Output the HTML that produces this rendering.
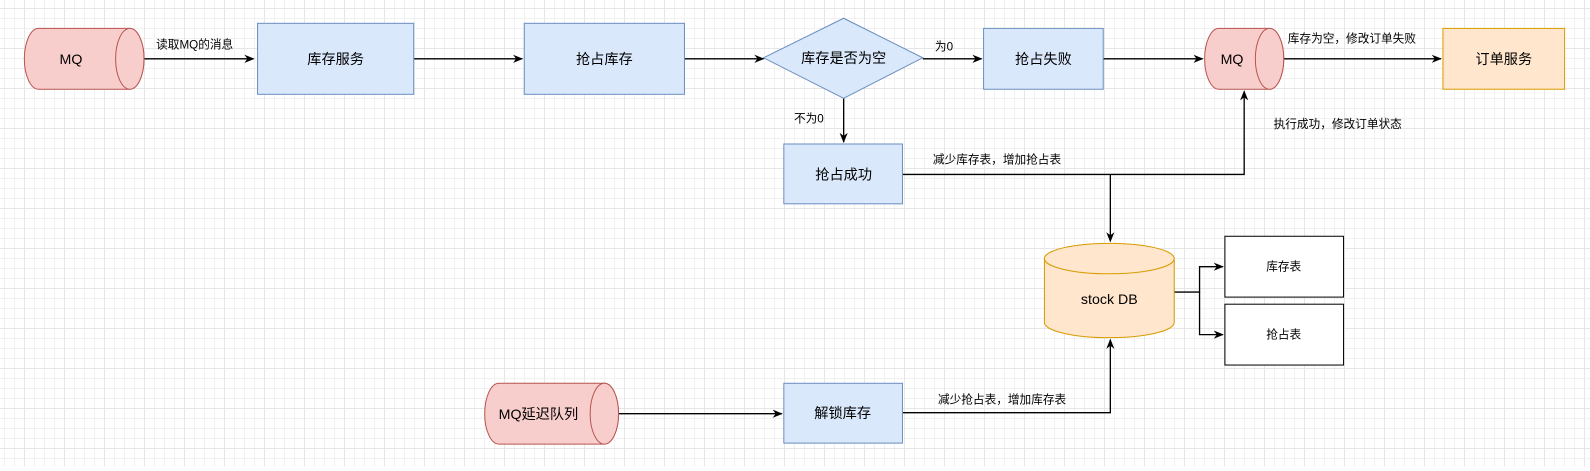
<!DOCTYPE html>
<html><head><meta charset="utf-8"><style>
html,body{margin:0;padding:0;background:#fff}
svg text{font-family:"Liberation Sans","Noto Sans CJK SC",sans-serif;fill:#000}
</style></head><body>
<svg width="1590" height="466" xmlns="http://www.w3.org/2000/svg">
<defs>
<pattern id="m" x="4" y="8" width="10" height="10" patternUnits="userSpaceOnUse"><path d="M10 0.5H0.5V10" fill="none" stroke="#f1f1f1" stroke-width="1"/></pattern>
<pattern id="g" x="24" y="8" width="40" height="40" patternUnits="userSpaceOnUse"><path d="M40 0.5H0.5V40" fill="none" stroke="#e6e6e6" stroke-width="1"/></pattern>
<marker id="a" markerWidth="10" markerHeight="10" refX="9" refY="5" orient="auto" markerUnits="userSpaceOnUse"><path d="M0 1 L10 5 L0 9 L3 5z" fill="#000"/></marker>
</defs>
<rect width="1590" height="466" fill="url(#m)"/>
<rect width="1590" height="466" fill="url(#g)"/>
<g transform="scale(1.014)">
<g stroke="#000" stroke-width="1.3" fill="none">
<path d="M142 58H250" marker-end="url(#a)"/>
<path d="M408 58H515" marker-end="url(#a)"/>
<path d="M675 58H753" marker-end="url(#a)"/>
<path d="M910 58H968" marker-end="url(#a)"/>
<path d="M1088 58H1186" marker-end="url(#a)"/>
<path d="M1265 58H1421" marker-end="url(#a)"/>
<path d="M832 97V140" marker-end="url(#a)"/>
<path d="M890 172H1227V90" marker-end="url(#a)"/>
<path d="M1095 172V238" marker-end="url(#a)"/>
<path d="M1158 288H1183V263H1206" marker-end="url(#a)"/>
<path d="M1183 288V330H1206" marker-end="url(#a)"/>
<path d="M610 408H771" marker-end="url(#a)"/>
<path d="M890 407H1095V335" marker-end="url(#a)"/>
</g>
<g stroke="#b85450" fill="#f8cecc" stroke-width="1">
<path d="M38 28H128A14 30 0 0 1 128 88H38A14 30 0 0 1 38 28Z"/>
<ellipse cx="128" cy="58" rx="14" ry="30"/>
<path d="M1202 28H1252A14 30 0 0 1 1252 88H1202A14 30 0 0 1 1202 28Z"/>
<ellipse cx="1252" cy="58" rx="14" ry="30"/>
<path d="M492 378H596A14 30 0 0 1 596 438H492A14 30 0 0 1 492 378Z"/>
<ellipse cx="596" cy="408" rx="14" ry="30"/>
</g>
<g stroke="#6c8ebf" fill="#dae8fc" stroke-width="1">
<rect x="254" y="23" width="154" height="70"/>
<rect x="517" y="23" width="158" height="70"/>
<path d="M753 57L832 18L910 57L832 97Z"/>
<rect x="970" y="28" width="118" height="60"/>
<rect x="773" y="142" width="117" height="59"/>
<rect x="773" y="378" width="117" height="59"/>
</g>
<rect x="1423" y="28" width="120" height="60" fill="#ffe6cc" stroke="#d79b00"/>
<g stroke="#d79b00" fill="#ffe6cc">
<path d="M1030 255V318A64 15 0 0 0 1158 318V255"/>
<ellipse cx="1094" cy="255" rx="64" ry="15"/>
</g>
<rect x="1208" y="233" width="117" height="60" fill="#fff" stroke="#000"/>
<rect x="1208" y="300" width="117" height="60" fill="#fff" stroke="#000"/>
<g font-size="14" text-anchor="middle">
<text x="70" y="63">MQ</text>
<text x="331" y="63">库存服务</text>
<text x="596" y="63">抢占库存</text>
<text x="832" y="62">库存是否为空</text>
<text x="1029" y="63">抢占失败</text>
<text x="1215" y="63">MQ</text>
<text x="1483" y="63">订单服务</text>
<text x="832" y="177">抢占成功</text>
<text x="1094" y="300">stock DB</text>
<text x="531" y="413">MQ延迟队列</text>
<text x="831" y="412">解锁库存</text>
</g>
<g font-size="11.5" text-anchor="middle">
<text x="1266" y="267">库存表</text>
<text x="1266" y="334">抢占表</text>
</g>
<g font-size="11.5">
<text x="154" y="48">读取MQ的消息</text>
<text x="922" y="50">为0</text>
<text x="783" y="121">不为0</text>
<text x="1270" y="42">库存为空，修改订单失败</text>
<text x="1256" y="126">执行成功，修改订单状态</text>
<text x="920" y="161">减少库存表，增加抢占表</text>
<text x="925" y="398">减少抢占表，增加库存表</text>
</g>
</g>
</svg>
</body></html>
